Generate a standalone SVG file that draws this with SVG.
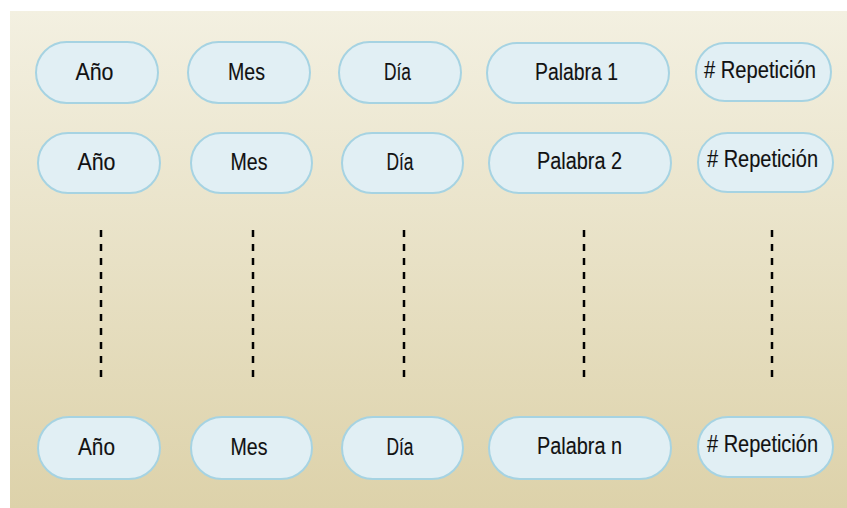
<svg xmlns="http://www.w3.org/2000/svg" width="847" height="508" viewBox="0 0 847 508">
<defs>
<linearGradient id="bg" x1="0" y1="0" x2="0" y2="1">
<stop offset="0" stop-color="#f3f0e1"/>
<stop offset="1" stop-color="#ddd2aa"/>
</linearGradient>
<style>
.n rect{fill:#e1eff4;stroke:#a6d3e2;stroke-width:2}
.n text{font-family:"Liberation Sans",Arial,sans-serif;font-size:24.5px;fill:#111;stroke:#111;stroke-width:0.15;text-anchor:middle}
.n text.r{font-size:23px}
.d line{stroke:#000;stroke-width:2.5;stroke-dasharray:7 7}
</style>
</defs>
<rect x="0" y="0" width="847" height="508" fill="#ffffff"/>
<rect x="10" y="11" width="837" height="497" fill="url(#bg)"/>

<g id="r1-anio" class="n"><rect x="36" y="42" width="122" height="61" rx="30.5"/><text x="94.5" y="80" textLength="38" lengthAdjust="spacingAndGlyphs">Año</text></g>
<g id="r1-mes" class="n"><rect x="188" y="42" width="122" height="61" rx="30.5"/><text x="246.5" y="80" textLength="37" lengthAdjust="spacingAndGlyphs">Mes</text></g>
<g id="r1-dia" class="n"><rect x="339" y="42" width="122" height="61" rx="30.5"/><text x="397.5" y="80" textLength="27" lengthAdjust="spacingAndGlyphs">Día</text></g>
<g id="r1-palabra" class="n"><rect x="487" y="43" width="182" height="60" rx="30"/><text x="576.5" y="80" textLength="83" lengthAdjust="spacingAndGlyphs">Palabra 1</text></g>
<g id="r1-rep" class="n"><rect x="696" y="43" width="135" height="58" rx="29"/><text class="r" x="760" y="78" textLength="112" lengthAdjust="spacingAndGlyphs"># Repetición</text></g>

<g id="r2-anio" class="n"><rect x="38" y="133" width="122" height="60" rx="30"/><text x="96.5" y="170" textLength="38" lengthAdjust="spacingAndGlyphs">Año</text></g>
<g id="r2-mes" class="n"><rect x="191" y="133" width="121" height="60" rx="30"/><text x="249" y="170" textLength="37" lengthAdjust="spacingAndGlyphs">Mes</text></g>
<g id="r2-dia" class="n"><rect x="342" y="133" width="121" height="60" rx="30"/><text x="400" y="170" textLength="27" lengthAdjust="spacingAndGlyphs">Día</text></g>
<g id="r2-palabra" class="n"><rect x="489" y="133" width="182" height="60" rx="30"/><text x="579.5" y="169" textLength="85" lengthAdjust="spacingAndGlyphs">Palabra 2</text></g>
<g id="r2-rep" class="n"><rect x="698" y="133" width="135" height="59" rx="29.5"/><text class="r" x="762.5" y="167" textLength="111" lengthAdjust="spacingAndGlyphs"># Repetición</text></g>

<g id="r3-anio" class="n"><rect x="38" y="417" width="122" height="62" rx="31"/><text x="96.5" y="455" textLength="37" lengthAdjust="spacingAndGlyphs">Año</text></g>
<g id="r3-mes" class="n"><rect x="191" y="417" width="121" height="62" rx="31"/><text x="249" y="455" textLength="37" lengthAdjust="spacingAndGlyphs">Mes</text></g>
<g id="r3-dia" class="n"><rect x="342" y="417" width="121" height="62" rx="31"/><text x="400" y="455" textLength="27" lengthAdjust="spacingAndGlyphs">Día</text></g>
<g id="r3-palabra" class="n"><rect x="489" y="417" width="182" height="62" rx="31"/><text x="579.5" y="454" textLength="85" lengthAdjust="spacingAndGlyphs">Palabra n</text></g>
<g id="r3-rep" class="n"><rect x="698" y="417" width="135" height="60" rx="30"/><text class="r" x="762.5" y="452" textLength="111" lengthAdjust="spacingAndGlyphs"># Repetición</text></g>

<g id="connectors" class="d">
<line x1="101" y1="230" x2="101" y2="378"/>
<line x1="253" y1="230" x2="253" y2="378"/>
<line x1="404" y1="230" x2="404" y2="378"/>
<line x1="584" y1="230" x2="584" y2="378"/>
<line x1="772" y1="230" x2="772" y2="378"/>
</g>
</svg>
